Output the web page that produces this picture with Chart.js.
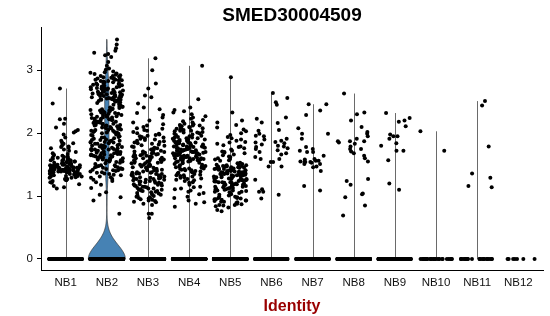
<!DOCTYPE html>
<html>
<head>
<meta charset="utf-8">
<script src="https://cdn.jsdelivr.net/npm/chart.js@4.4.0/dist/chart.umd.min.js"></script>
<style>
  body { margin: 0; background: #fff; }
  canvas { display: block; }
</style>
</head>
<body>
<canvas id="myChart" width="550" height="316"></canvas>
<script>
const categories = ['NB1', 'NB2', 'NB3', 'NB4', 'NB5', 'NB6', 'NB7', 'NB8', 'NB9', 'NB10', 'NB11', 'NB12'];
const yTicks = [0, 1, 2, 3];

// non-zero expression values per cluster
const nb1 = [2.71, 2.47, 2.23, 2.22, 2.15, 2.09, 2.05, 2.03, 2.01, 1.98, 1.93, 1.88, 1.85, 1.84, 1.83, 1.81, 1.79, 1.78, 1.77, 1.76,
  1.52, 1.38, 1.45, 1.61, 1.29, 1.43, 1.56, 1.34, 1.48, 1.41, 1.67, 1.36, 1.50, 1.25, 1.44, 1.58, 1.39, 1.47, 1.32, 1.53,
  1.42, 1.62, 1.35, 1.46, 1.19, 1.49, 1.40, 1.55, 1.31, 1.44, 1.70, 1.37, 1.51, 1.27, 1.43, 1.59, 1.38, 1.46, 1.33, 1.54,
  1.41, 1.65, 1.36, 1.48, 1.22, 1.45, 1.40, 1.57, 1.30, 1.43, 1.74, 1.39, 1.52, 1.26, 1.47, 1.60, 1.35, 1.44, 1.32, 1.50,
  1.42, 1.64, 1.37, 1.49, 1.16, 1.45, 1.41, 1.56, 1.28, 1.46, 1.68, 1.38, 1.53, 1.24, 1.43, 1.58, 1.34, 1.47, 1.31, 1.51,
  1.40, 1.63, 1.36, 1.48, 1.21, 1.44, 1.39, 1.55, 1.29, 1.42, 1.72, 1.37, 1.50, 1.14, 1.45, 1.61, 1.33, 1.46, 1.35, 1.54,
  1.41, 1.66, 1.38, 1.49, 1.12, 1.43, 1.40, 1.57, 1.27, 1.44];
const nb2 = [3.49, 3.41, 3.35, 3.31, 3.28, 3.26, 3.24, 3.21, 3.13, 3.07, 3.03, 3.01, 2.98, 2.96,
  2.93, 2.88, 2.91, 2.85, 2.79, 2.82, 2.76, 2.74, 2.87, 2.71, 2.69, 2.95, 2.66, 2.63, 2.72, 2.58, 2.61, 2.55, 2.53, 2.68,
  2.77, 2.51, 2.84, 2.57, 2.64, 2.73, 2.59, 2.52, 2.89, 2.62, 2.56, 2.81, 2.67, 2.54, 2.78, 2.60, 2.70, 2.65, 2.75, 2.50,
  2.83, 2.58, 2.62, 2.71, 2.53, 2.94, 2.86, 2.68, 2.79, 2.57, 2.90, 2.74, 2.63, 2.85, 2.52, 2.77, 2.66, 2.92, 2.59, 2.81,
  2.70, 2.55, 2.88, 2.64, 2.76, 2.51, 2.83, 2.69, 2.97, 2.61, 2.73, 2.56, 2.87, 2.65, 2.80, 2.54, 2.91, 2.72, 2.60, 2.84,
  2.47, 2.31, 2.12, 2.44, 2.05, 2.38, 2.21, 2.49, 2.16, 2.02, 2.35, 2.27, 2.09, 2.42, 2.19, 2.33, 2.01, 2.25, 2.46, 2.13,
  2.07, 2.39, 2.23, 2.15, 2.29, 2.04, 2.36, 2.11, 2.43, 2.18, 2.26, 2.08, 2.32, 2.41, 2.03, 2.22, 2.14, 2.37, 2.06, 2.28,
  2.17, 2.45, 2.10, 2.24, 2.34, 2.00, 2.20, 2.40, 2.12, 2.30, 2.05, 2.19, 2.27, 2.09, 2.36, 2.15, 2.02, 2.23, 2.48, 2.07,
  2.31, 2.18, 2.11, 2.25, 2.38, 2.04, 2.16, 2.29, 2.21, 2.08, 2.33, 2.13, 2.42, 2.01, 2.26,
  1.98, 1.74, 1.62, 1.89, 1.55, 1.81, 1.67, 1.93, 1.71, 1.58, 1.85, 1.64, 1.77, 1.52, 1.96, 1.69, 1.83, 1.60, 1.75, 1.91,
  1.66, 1.79, 1.57, 1.87, 1.72, 1.63, 1.94, 1.68, 1.80, 1.54, 1.76, 1.88, 1.61, 1.73, 1.84, 1.59, 1.70, 1.97, 1.65, 1.78,
  1.51, 1.86, 1.67, 1.74, 1.90, 1.62, 1.82, 1.56, 1.71, 1.95, 1.69, 1.77, 1.60, 1.85, 1.73, 1.64, 1.92, 1.53, 1.80, 1.66,
  1.75, 1.89, 1.58, 1.72, 1.83, 1.63, 1.99, 1.68, 1.79, 1.55, 1.86, 1.70, 1.61, 1.76, 1.93, 1.65, 1.81, 1.57, 1.74, 1.88,
  1.48, 1.44, 1.39, 1.46, 1.33, 1.42, 1.27, 1.49, 1.37, 1.45, 1.31, 1.41, 1.24, 1.47, 1.35, 1.43, 1.29, 1.40, 1.46, 1.22,
  1.38, 1.44, 1.34, 1.49, 1.26, 1.41, 1.36, 1.47, 1.30, 1.43,
  1.18, 1.13, 1.06, 1.02, 0.98, 0.93, 0.72];
const nb3 = [3.19, 3.00, 2.79, 2.71, 2.60, 2.57, 2.47, 2.41, 2.38, 2.32, 2.29, 2.25, 2.20, 2.17, 2.14, 2.12, 2.10, 2.08,
  2.05, 1.98, 2.02, 1.93, 1.88, 2.07, 1.85, 1.96, 1.82, 1.91, 2.00, 1.86, 1.94, 1.81, 1.89, 2.04, 1.84, 1.97, 1.92, 1.83,
  1.99, 1.87, 1.95, 1.80, 1.90,
  1.78, 1.62, 1.71, 1.55, 1.66, 1.49, 1.74, 1.58, 1.43, 1.69, 1.52, 1.77, 1.61, 1.46, 1.64, 1.41, 1.72, 1.56, 1.68, 1.50,
  1.75, 1.59, 1.44, 1.65, 1.53, 1.70, 1.47, 1.63, 1.57, 1.42, 1.73, 1.60, 1.48, 1.67, 1.54, 1.76, 1.45, 1.62, 1.51, 1.69,
  1.40, 1.58, 1.66, 1.47, 1.79, 1.55, 1.43, 1.64, 1.52, 1.71, 1.49, 1.60, 1.45, 1.67, 1.56, 1.41, 1.74, 1.53, 1.63, 1.50,
  1.38, 1.22, 1.31, 1.15, 1.27, 1.08, 1.35, 1.19, 1.03, 1.29, 1.12, 1.36, 1.24, 1.06, 1.33, 1.17, 1.01, 1.26, 1.39, 1.10,
  1.30, 1.21, 1.05, 1.34, 1.14, 1.28, 1.09, 1.37, 1.20, 1.32, 1.13, 1.25, 1.04, 1.36, 1.18, 1.29, 1.07, 1.23, 1.35, 1.11,
  1.30, 1.16, 1.02, 1.27, 1.38, 1.19, 1.24, 1.08, 1.33, 1.12, 1.26, 1.00, 1.31, 1.21, 1.15, 1.37, 1.10, 1.28, 1.23, 1.17,
  0.98, 0.95, 0.92, 0.97, 0.90, 0.94, 0.88, 0.99, 0.91, 0.86, 0.96, 0.93, 0.72, 0.72, 0.65];
const nb4 = [3.07, 2.54, 2.41, 2.37, 2.35, 2.33, 2.30, 2.27, 2.25, 2.23, 2.21, 2.19, 2.17, 2.15,
  2.12, 2.04, 2.10, 2.01, 2.08, 2.13, 2.03, 2.06, 2.11, 2.00, 2.09, 2.05, 2.14, 2.02, 2.07, 2.12, 2.04, 2.10, 2.01, 2.08,
  1.98, 1.72, 1.85, 1.61, 1.93, 1.67, 1.79, 1.55, 1.88, 1.70, 1.82, 1.58, 1.95, 1.64, 1.76, 1.52, 1.90, 1.68, 1.84, 1.60,
  1.73, 1.97, 1.63, 1.81, 1.57, 1.87, 1.69, 1.78, 1.54, 1.92, 1.66, 1.75, 1.59, 1.86, 1.71, 1.80, 1.62, 1.94, 1.65, 1.77,
  1.51, 1.89, 1.70, 1.83, 1.56, 1.74, 1.99, 1.60, 1.79, 1.67, 1.85, 1.53, 1.72, 1.91, 1.64, 1.76, 1.58, 1.87, 1.69, 1.81,
  1.62, 1.96, 1.73, 1.55, 1.84, 1.66, 1.78, 1.50, 1.90, 1.68, 1.75, 1.60, 1.83, 1.71, 1.57, 1.93, 1.65, 1.80, 1.63, 1.77,
  1.54, 1.88, 1.70, 1.74, 1.61, 1.86, 1.67, 1.79, 1.59, 1.92, 1.72, 1.64, 1.82, 1.56, 1.76, 1.69, 1.85, 1.62, 1.73, 1.58,
  1.48, 1.37, 1.44, 1.29, 1.41, 1.33, 1.46, 1.25, 1.39, 1.43, 1.31, 1.47, 1.22, 1.36, 1.42, 1.28, 1.45, 1.34, 1.40, 1.26,
  1.49, 1.32, 1.38, 1.21, 1.44, 1.30, 1.41, 1.35, 1.47, 1.24, 1.39, 1.43, 1.27, 1.46, 1.33,
  1.18, 1.15, 1.12, 1.09, 1.07, 1.05, 1.03, 0.99, 0.97, 1.14, 1.11, 0.90, 0.88, 0.93, 0.83];
const nb5 = [2.89, 2.33, 2.20, 2.17, 2.13, 2.09, 2.06, 2.03, 2.00, 1.97, 1.94,
  1.92, 1.78, 1.86, 1.71, 1.90, 1.65, 1.83, 1.60, 1.88, 1.74, 1.68, 1.81, 1.57, 1.76, 1.63, 1.85, 1.70, 1.59, 1.79, 1.66,
  1.72, 1.56, 1.62, 1.69, 1.58,
  1.52, 1.28, 1.41, 1.13, 1.36, 1.22, 1.47, 1.05, 1.31, 1.44, 1.18, 1.38, 1.25, 1.50, 1.09, 1.33, 1.42, 1.20, 1.46, 1.15,
  1.30, 1.39, 1.02, 1.27, 1.49, 1.11, 1.35, 1.23, 1.43, 1.07, 1.32, 1.40, 1.17, 1.48, 1.26, 1.37, 1.12, 1.45, 1.21, 1.29,
  1.53, 1.04, 1.34, 1.19, 1.41, 1.24, 1.46, 1.08, 1.30, 1.38, 1.14, 1.51, 1.27, 1.36, 1.22, 1.44, 1.10, 1.33, 1.47, 1.16,
  1.39, 1.25, 1.01, 1.42, 1.28, 1.35, 1.19, 1.49, 1.06, 1.31, 1.43, 1.23, 1.37, 1.13, 1.45, 1.26, 1.34, 1.20, 1.50, 1.09,
  1.40, 1.29, 1.17, 1.46, 1.32, 1.24, 1.38, 1.11, 1.44, 1.27, 1.03, 1.36, 1.21, 1.48, 1.15, 1.33, 1.41, 1.18, 1.30, 1.07,
  1.39, 1.25, 1.47, 1.12, 1.35, 1.22, 1.43, 1.28, 1.16, 1.34,
  0.98, 0.95, 0.92, 0.99, 0.88, 0.96, 0.93, 0.86, 0.97, 0.91, 0.85, 0.94, 0.89, 0.99, 0.87, 0.84, 0.82, 0.78, 0.76, 0.95,
  0.90, 0.97, 0.93, 0.86, 0.91];
const nb6 = [2.64, 2.56, 2.49, 2.45, 2.25, 2.23, 2.17, 2.16, 2.05, 2.04, 1.99, 1.96, 1.95, 1.91, 1.88, 1.86, 1.84, 1.82,
  1.80, 1.79, 1.76, 1.75, 1.73, 1.70, 1.66, 1.62, 1.59, 1.59, 1.54, 1.54, 1.47, 1.47, 1.26, 1.11, 1.07, 1.07, 1.02, 0.96,
  1.90, 1.85, 1.78, 1.68];
const nb7 = [2.46, 2.46, 2.36, 2.29, 2.08, 1.99, 1.99, 1.91, 1.78, 1.75, 1.72, 1.70, 1.70, 1.64, 1.59, 1.56, 1.56, 1.55,
  1.54, 1.54, 1.54, 1.53, 1.51, 1.51, 1.47, 1.46, 1.40, 1.16, 1.09, 1.58];
const nb8 = [2.63, 2.33, 2.30, 2.20, 2.10, 2.02, 1.99, 1.95, 1.91, 1.87, 1.87, 1.87, 1.85, 1.83, 1.79, 1.75, 1.75, 1.71,
  1.68, 1.64, 1.60, 1.55, 1.27, 1.24, 1.18, 1.04, 1.03, 0.98, 0.85, 0.69];
const nb9 = [2.32, 2.24, 2.20, 2.18, 2.11, 1.98, 1.95, 1.95, 1.91, 1.84, 1.80, 1.72, 1.72, 1.57, 1.20, 1.10];
const nb10 = [2.03, 1.72];
const nb11 = [2.51, 2.44, 1.79, 1.36, 1.29, 1.16, 1.14];
const nb12 = [];
// cells with zero expression in each cluster
const zeroCounts = [600, 760, 700, 700, 700, 300, 300, 250, 200, 30, 22, 7];

const groups = [nb1, nb2, nb3, nb4, nb5, nb6, nb7, nb8, nb9, nb10, nb11, nb12];
const groupValues = groups.map((v, g) => v.concat(new Array(zeroCounts[g]).fill(0)));

// horizontal jitter of the dots (placement only, values untouched)
function jitter(g, i) {
  const s = Math.sin((g + 1) * 127.1 + i * 311.7) * 43758.5453;
  return (s - Math.floor(s) - 0.5) * 0.8;
}

function quantile(sorted, p) {
  const h = (sorted.length - 1) * p;
  const lo = Math.floor(h);
  const hi = Math.min(lo + 1, sorted.length - 1);
  return sorted[lo] + (h - lo) * (sorted[hi] - sorted[lo]);
}

// R's bw.nrd0
function bandwidth(vals) {
  const n = vals.length;
  const s = vals.slice().sort((a, b) => a - b);
  const mean = vals.reduce((a, b) => a + b, 0) / n;
  const sd = Math.sqrt(vals.reduce((a, b) => a + (b - mean) * (b - mean), 0) / (n - 1));
  const iqr = quantile(s, 0.75) - quantile(s, 0.25);
  const lo = Math.min(sd, iqr / 1.34);
  if (!lo) return 0;
  return 0.9 * lo * Math.pow(n, -0.2);
}

const violinPlugin = {
  id: 'violins',
  beforeDatasetsDraw(chart) {
    const {ctx, scales: {x, y}} = chart;
    ctx.save();
    groupValues.forEach((vals, g) => {
      const c = g + 1;
      const mn = Math.min(...vals), mx = Math.max(...vals);
      if (mx <= mn) return;
      const bw = bandwidth(vals);
      if (!bw) {
        // density collapses to spikes: violin reads as a plain line
        const px = Math.round(x.getPixelForValue(c)) + 0.5;
        ctx.strokeStyle = '#6a6a6a';
        ctx.lineWidth = 1;
        ctx.beginPath();
        ctx.moveTo(px, y.getPixelForValue(mn));
        ctx.lineTo(px, y.getPixelForValue(mx));
        ctx.stroke();
        return;
      }
      const steps = 256;
      const grid = [], dens = [];
      for (let k = 0; k <= steps; k++) {
        const t = mn + (mx - mn) * k / steps;
        let d = 0;
        for (const v of vals) {
          const z = (t - v) / bw;
          d += Math.exp(-0.5 * z * z);
        }
        grid.push(t);
        dens.push(d);
      }
      const dmax = Math.max(...dens);
      ctx.beginPath();
      grid.forEach((t, k) => {
        const px = x.getPixelForValue(c + 0.45 * dens[k] / dmax);
        const py = y.getPixelForValue(t);
        if (k === 0) ctx.moveTo(px, py); else ctx.lineTo(px, py);
      });
      for (let k = grid.length - 1; k >= 0; k--) {
        ctx.lineTo(x.getPixelForValue(c - 0.45 * dens[k] / dmax), y.getPixelForValue(grid[k]));
      }
      ctx.closePath();
      ctx.fillStyle = '#4682b4';
      ctx.fill();
      ctx.strokeStyle = '#333';
      ctx.lineWidth = 0.7;
      ctx.stroke();
    });
    ctx.restore();
  }
};

const datasets = groupValues.map((vals, g) => ({
  data: vals.map((v, i) => ({x: g + 1 + jitter(g, i), y: v})),
  backgroundColor: '#000',
  borderWidth: 0,
  pointRadius: 2,
  pointHoverRadius: 2
}));

const ctx = document.getElementById('myChart').getContext('2d');
const myChart = new Chart(ctx, {
  type: 'scatter',
  data: { datasets: datasets },
  plugins: [violinPlugin],
  options: {
    responsive: false,
    animation: false,
    layout: { padding: { left: 0, right: 7, top: 0, bottom: 0 } },
    plugins: {
      legend: { display: false },
      tooltip: { enabled: false },
      title: {
        display: true,
        text: 'SMED30004509',
        fullSize: false,
        color: '#000',
        font: { family: 'Liberation Sans, Arial, sans-serif', size: 19, weight: 'bold' },
        padding: { top: 4, bottom: 1 }
      }
    },
    scales: {
      x: {
        type: 'linear',
        min: 0.4,
        max: 12.6,
        afterBuildTicks: s => { s.ticks = categories.map((c, i) => ({ value: i + 1 })); },
        afterFit: s => { s.height = 46; },
        ticks: {
          callback: v => categories[v - 1],
          color: '#111',
          padding: 6,
          maxRotation: 0,
          autoSkip: false,
          font: { family: 'Liberation Sans, Arial, sans-serif', size: 11.5 }
        },
        grid: { display: false, drawTicks: false },
        border: { display: true, color: '#000', width: 1 },
        title: {
          display: true,
          text: 'Identity',
          color: '#990000',
          font: { family: 'Liberation Sans, Arial, sans-serif', size: 16, weight: 'bold' },
          padding: { top: 8, bottom: 0 }
        }
      },
      y: {
        min: -0.175,
        max: 3.675,
        afterBuildTicks: s => { s.ticks = yTicks.map(v => ({ value: v })); },
        afterFit: s => { s.width = 41; },
        ticks: {
          color: '#111',
          padding: 4,
          font: { family: 'Liberation Sans, Arial, sans-serif', size: 11.5 }
        },
        grid: { display: true, drawOnChartArea: false, drawTicks: true, tickLength: 4, color: '#000', lineWidth: 1 },
        border: { display: true, color: '#000', width: 1 }
      }
    }
  }
});
</script>
</body>
</html>
